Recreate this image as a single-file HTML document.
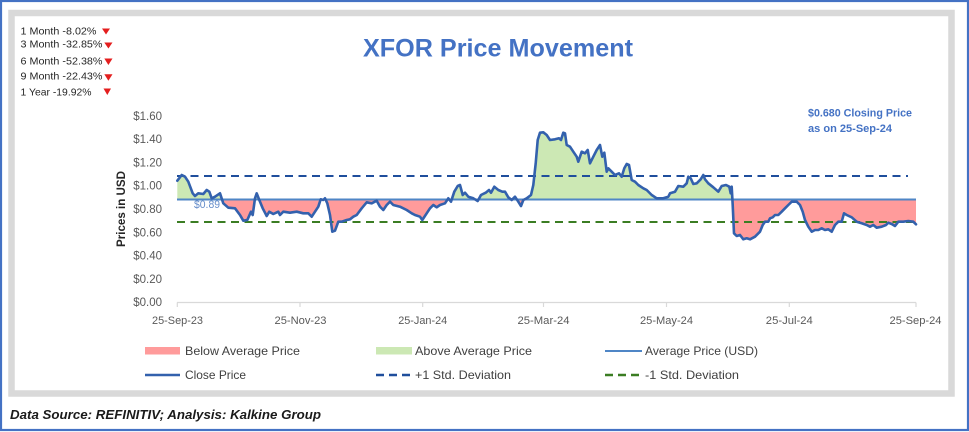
<!DOCTYPE html>
<html>
<head>
<meta charset="utf-8">
<style>
  html,body{margin:0;padding:0;background:#fff;}
  svg{display:block;}
  text{font-family:"Liberation Sans",Arial,sans-serif;}
</style>
</head>
<body>
<svg width="969" height="432" viewBox="0 0 969 432" xmlns="http://www.w3.org/2000/svg">
  <!-- outer blue border -->
  <rect x="1" y="1" width="967" height="429" fill="#fff" stroke="#4472c4" stroke-width="2.2"/>
  <!-- gray frame -->
  <rect x="11.5" y="13" width="940" height="380.5" fill="#fff" stroke="#d9d9d9" stroke-width="6.5"/>

  <!-- stats -->
  <g font-size="10.5" fill="#262626">
    <text x="20.5" y="34.3" textLength="76" lengthAdjust="spacingAndGlyphs">1 Month -8.02%</text>
    <text x="20.5" y="47.7" textLength="82" lengthAdjust="spacingAndGlyphs">3 Month -32.85%</text>
    <text x="20.5" y="64.4" textLength="82" lengthAdjust="spacingAndGlyphs">6 Month -52.38%</text>
    <text x="20.5" y="79.7" textLength="82" lengthAdjust="spacingAndGlyphs">9 Month -22.43%</text>
    <text x="20.5" y="95.4" textLength="71" lengthAdjust="spacingAndGlyphs">1 Year -19.92%</text>
  </g>
  <g fill="#e41e1e">
    <polygon points="102,28.5 110,28.5 106,34.5"/>
    <polygon points="104.3,42.5 112.5,42.5 108.4,48.5"/>
    <polygon points="104.3,58.5 112.5,58.5 108.4,65"/>
    <polygon points="104.3,74.2 112.5,74.2 108.4,80.7"/>
    <polygon points="103.5,88.5 111,88.5 107.3,95"/>
  </g>

  <!-- title -->
  <text x="498" y="56.5" text-anchor="middle" font-size="25" font-weight="bold" fill="#4472c4" textLength="270" lengthAdjust="spacingAndGlyphs">XFOR Price Movement</text>

  <!-- closing annotation -->
  <g font-size="11" font-weight="bold" fill="#4472c4">
    <text x="808" y="116.5" textLength="104" lengthAdjust="spacingAndGlyphs">$0.680 Closing Price</text>
    <text x="808" y="132" textLength="84" lengthAdjust="spacingAndGlyphs">as on 25-Sep-24</text>
  </g>

  <!-- y axis labels -->
  <g font-size="11.5" fill="#595959" text-anchor="end">
    <text x="162" y="119.8">$1.60</text>
    <text x="162" y="143.1">$1.40</text>
    <text x="162" y="166.4">$1.20</text>
    <text x="162" y="189.7">$1.00</text>
    <text x="162" y="213">$0.80</text>
    <text x="162" y="236.3">$0.60</text>
    <text x="162" y="259.6">$0.40</text>
    <text x="162" y="282.9">$0.20</text>
    <text x="162" y="306.2">$0.00</text>
  </g>
  <text transform="translate(125,209) rotate(-90)" text-anchor="middle" font-size="12" font-weight="bold" fill="#262626" textLength="76" lengthAdjust="spacingAndGlyphs">Prices in USD</text>

  <!-- x axis -->
  <line x1="177" y1="302.5" x2="916" y2="302.5" stroke="#d9d9d9" stroke-width="1.2"/>
  <g stroke="#d9d9d9" stroke-width="1.2">
    <line x1="177.3" y1="302.5" x2="177.3" y2="307"/>
    <line x1="300" y1="302.5" x2="300" y2="307"/>
    <line x1="422.7" y1="302.5" x2="422.7" y2="307"/>
    <line x1="543.5" y1="302.5" x2="543.5" y2="307"/>
    <line x1="666.5" y1="302.5" x2="666.5" y2="307"/>
    <line x1="789.3" y1="302.5" x2="789.3" y2="307"/>
    <line x1="916" y1="302.5" x2="916" y2="307"/>
  </g>
  <g font-size="11" fill="#595959" text-anchor="middle">
    <text x="177.5" y="324" textLength="51" lengthAdjust="spacingAndGlyphs">25-Sep-23</text>
    <text x="300.5" y="324" textLength="52" lengthAdjust="spacingAndGlyphs">25-Nov-23</text>
    <text x="422.7" y="324" textLength="49" lengthAdjust="spacingAndGlyphs">25-Jan-24</text>
    <text x="543.5" y="324" textLength="52" lengthAdjust="spacingAndGlyphs">25-Mar-24</text>
    <text x="666.5" y="324" textLength="53" lengthAdjust="spacingAndGlyphs">25-May-24</text>
    <text x="789.3" y="324" textLength="47" lengthAdjust="spacingAndGlyphs">25-Jul-24</text>
    <text x="915.5" y="324" textLength="52" lengthAdjust="spacingAndGlyphs">25-Sep-24</text>
  </g>

  <defs>
    <clipPath id="above"><rect x="170" y="100" width="760" height="99.5"/></clipPath>
    <clipPath id="below"><rect x="170" y="199.5" width="760" height="100"/></clipPath>
  </defs>

  <!-- fills -->
  <g id="fills">
    <polygon clip-path="url(#above)" fill="#cce8b4" points="177.3,199.5 177.3,180.7 181.7,175 185,176.7 188.3,181.7 192.7,193.3 195,196 198.3,193.3 203.3,194 206.7,190 209.3,191.7 211.7,198.3 215,196.7 220,193.3 223.3,203.3 228.3,207.7 235,208.3 240,215 243.3,220.7 247.3,220 251,211.7 252.7,215 255,198.3 256.7,193.3 259.3,200 262.7,208.3 266.7,216 269.3,211.7 273.3,214 278.3,211.7 280,215 283.3,211.7 290,212.7 296.7,211.7 303.3,213.3 308.3,213.3 311.7,216.7 315,211.7 318.3,206.7 320.7,199.3 323.3,200 325,198.3 327.3,203.3 330,215 332.3,231.7 335,230.7 338.3,221.7 341.7,221.7 346.7,220 350,219.3 353.3,216.7 356.7,215 361.7,208.3 366.7,202.3 371.7,203.3 376.7,200.7 380,206.7 383.3,210 386.7,205 390,201.7 393.3,205 400,206.7 406.7,210 411.7,213.3 415,215 420,216.7 422.3,220 426.7,213.3 430,208.3 433.3,205 436.7,207.3 440,205 445,203.3 448.3,198.3 451,201.7 454.3,191.7 457.7,186 460,185 462.7,195 465,192.7 468.3,196.7 473.3,198.3 477.7,201 481,195 485.7,192.7 489,190 491,192.7 494.3,186.7 498.3,190 502.3,191.7 505,191.7 508.3,197.3 511.7,200 515,196.7 518.3,201.7 521,206 523.3,200 526.7,198.3 531,195 533.3,185 535.7,163.3 537.7,140 540,132.7 543.3,132.3 546.7,135 550,140 555,139.3 559,138.3 561,140 563.3,132.7 565,133.3 566.7,145 570,146.7 573.3,151.7 576.7,156.7 578.3,161.7 581.7,151.7 585,153.3 587.7,150 590,163.3 593.3,156.7 596.7,150 600,145 602.3,156.7 604.3,152.7 606.7,171.7 608.3,168.3 611.7,171.7 615,175 619,173.3 621.7,176.7 624.3,168.3 626.7,164 629,165 631.7,180 635,181.7 638.3,185 643.3,188.3 646.7,190 651.7,195 656.7,198.3 663.3,198.3 668.3,196.7 670,193.3 675,191.7 678.3,186 683.3,186.7 686.7,183.3 688.3,176.7 690.7,178.3 693.3,184 696.7,183.3 700.7,179.3 703.3,175 705,179.3 708.3,183.3 713.3,187.3 718.3,191.7 721.7,186 726,185 729.3,186.7 730.7,193.3 731.7,186.7 732.7,205 734,233.3 736.7,236 740,235 743.3,239.3 746.7,238.3 750,239.3 755,236.7 760,231.7 762.7,225 765,221.7 768.3,221.7 770,218.3 772.7,217.3 775,215 778.3,215 781.7,211.7 785,208.3 788.3,205 791.7,201.7 796.7,201.7 800,205 802.7,211.7 805,220 808.3,226.7 811.7,231.7 815,230 818.3,230 821.7,228.3 825,230 828.3,229.3 831.7,231.7 835,225 838.3,221.7 841.7,221.7 844,213.3 846.7,215 851.7,217.3 856.7,221.7 861.7,223.3 866.7,225 870,226.7 873.3,225 876.7,227.7 881.7,226.7 886,225 888.3,222.7 891.7,224 895,226 898.3,221.7 903.3,221.7 908.3,221 913.3,221.7 916,224.3 916,199.5"/>
    <polygon clip-path="url(#below)" fill="#ff9b9b" points="177.3,199.5 177.3,180.7 181.7,175 185,176.7 188.3,181.7 192.7,193.3 195,196 198.3,193.3 203.3,194 206.7,190 209.3,191.7 211.7,198.3 215,196.7 220,193.3 223.3,203.3 228.3,207.7 235,208.3 240,215 243.3,220.7 247.3,220 251,211.7 252.7,215 255,198.3 256.7,193.3 259.3,200 262.7,208.3 266.7,216 269.3,211.7 273.3,214 278.3,211.7 280,215 283.3,211.7 290,212.7 296.7,211.7 303.3,213.3 308.3,213.3 311.7,216.7 315,211.7 318.3,206.7 320.7,199.3 323.3,200 325,198.3 327.3,203.3 330,215 332.3,231.7 335,230.7 338.3,221.7 341.7,221.7 346.7,220 350,219.3 353.3,216.7 356.7,215 361.7,208.3 366.7,202.3 371.7,203.3 376.7,200.7 380,206.7 383.3,210 386.7,205 390,201.7 393.3,205 400,206.7 406.7,210 411.7,213.3 415,215 420,216.7 422.3,220 426.7,213.3 430,208.3 433.3,205 436.7,207.3 440,205 445,203.3 448.3,198.3 451,201.7 454.3,191.7 457.7,186 460,185 462.7,195 465,192.7 468.3,196.7 473.3,198.3 477.7,201 481,195 485.7,192.7 489,190 491,192.7 494.3,186.7 498.3,190 502.3,191.7 505,191.7 508.3,197.3 511.7,200 515,196.7 518.3,201.7 521,206 523.3,200 526.7,198.3 531,195 533.3,185 535.7,163.3 537.7,140 540,132.7 543.3,132.3 546.7,135 550,140 555,139.3 559,138.3 561,140 563.3,132.7 565,133.3 566.7,145 570,146.7 573.3,151.7 576.7,156.7 578.3,161.7 581.7,151.7 585,153.3 587.7,150 590,163.3 593.3,156.7 596.7,150 600,145 602.3,156.7 604.3,152.7 606.7,171.7 608.3,168.3 611.7,171.7 615,175 619,173.3 621.7,176.7 624.3,168.3 626.7,164 629,165 631.7,180 635,181.7 638.3,185 643.3,188.3 646.7,190 651.7,195 656.7,198.3 663.3,198.3 668.3,196.7 670,193.3 675,191.7 678.3,186 683.3,186.7 686.7,183.3 688.3,176.7 690.7,178.3 693.3,184 696.7,183.3 700.7,179.3 703.3,175 705,179.3 708.3,183.3 713.3,187.3 718.3,191.7 721.7,186 726,185 729.3,186.7 730.7,193.3 731.7,186.7 732.7,205 734,233.3 736.7,236 740,235 743.3,239.3 746.7,238.3 750,239.3 755,236.7 760,231.7 762.7,225 765,221.7 768.3,221.7 770,218.3 772.7,217.3 775,215 778.3,215 781.7,211.7 785,208.3 788.3,205 791.7,201.7 796.7,201.7 800,205 802.7,211.7 805,220 808.3,226.7 811.7,231.7 815,230 818.3,230 821.7,228.3 825,230 828.3,229.3 831.7,231.7 835,225 838.3,221.7 841.7,221.7 844,213.3 846.7,215 851.7,217.3 856.7,221.7 861.7,223.3 866.7,225 870,226.7 873.3,225 876.7,227.7 881.7,226.7 886,225 888.3,222.7 891.7,224 895,226 898.3,221.7 903.3,221.7 908.3,221 913.3,221.7 916,224.3 916,199.5"/>
  </g>

  <!-- reference lines -->
  <line x1="177" y1="199.5" x2="916" y2="199.5" stroke="#4f86c6" stroke-width="2"/>
  <line x1="177" y1="176" x2="908" y2="176" stroke="#1f4e9c" stroke-width="2" stroke-dasharray="8 5.5"/>
  <line x1="177" y1="222" x2="916" y2="222" stroke="#3b7d23" stroke-width="2" stroke-dasharray="8 5.5"/>

  <!-- close price -->
  <polyline fill="none" stroke="#3361ad" stroke-width="2.6" stroke-linejoin="round" stroke-linecap="round" points="177.3,180.7 181.7,175 185,176.7 188.3,181.7 192.7,193.3 195,196 198.3,193.3 203.3,194 206.7,190 209.3,191.7 211.7,198.3 215,196.7 220,193.3 223.3,203.3 228.3,207.7 235,208.3 240,215 243.3,220.7 247.3,220 251,211.7 252.7,215 255,198.3 256.7,193.3 259.3,200 262.7,208.3 266.7,216 269.3,211.7 273.3,214 278.3,211.7 280,215 283.3,211.7 290,212.7 296.7,211.7 303.3,213.3 308.3,213.3 311.7,216.7 315,211.7 318.3,206.7 320.7,199.3 323.3,200 325,198.3 327.3,203.3 330,215 332.3,231.7 335,230.7 338.3,221.7 341.7,221.7 346.7,220 350,219.3 353.3,216.7 356.7,215 361.7,208.3 366.7,202.3 371.7,203.3 376.7,200.7 380,206.7 383.3,210 386.7,205 390,201.7 393.3,205 400,206.7 406.7,210 411.7,213.3 415,215 420,216.7 422.3,220 426.7,213.3 430,208.3 433.3,205 436.7,207.3 440,205 445,203.3 448.3,198.3 451,201.7 454.3,191.7 457.7,186 460,185 462.7,195 465,192.7 468.3,196.7 473.3,198.3 477.7,201 481,195 485.7,192.7 489,190 491,192.7 494.3,186.7 498.3,190 502.3,191.7 505,191.7 508.3,197.3 511.7,200 515,196.7 518.3,201.7 521,206 523.3,200 526.7,198.3 531,195 533.3,185 535.7,163.3 537.7,140 540,132.7 543.3,132.3 546.7,135 550,140 555,139.3 559,138.3 561,140 563.3,132.7 565,133.3 566.7,145 570,146.7 573.3,151.7 576.7,156.7 578.3,161.7 581.7,151.7 585,153.3 587.7,150 590,163.3 593.3,156.7 596.7,150 600,145 602.3,156.7 604.3,152.7 606.7,171.7 608.3,168.3 611.7,171.7 615,175 619,173.3 621.7,176.7 624.3,168.3 626.7,164 629,165 631.7,180 635,181.7 638.3,185 643.3,188.3 646.7,190 651.7,195 656.7,198.3 663.3,198.3 668.3,196.7 670,193.3 675,191.7 678.3,186 683.3,186.7 686.7,183.3 688.3,176.7 690.7,178.3 693.3,184 696.7,183.3 700.7,179.3 703.3,175 705,179.3 708.3,183.3 713.3,187.3 718.3,191.7 721.7,186 726,185 729.3,186.7 730.7,193.3 731.7,186.7 732.7,205 734,233.3 736.7,236 740,235 743.3,239.3 746.7,238.3 750,239.3 755,236.7 760,231.7 762.7,225 765,221.7 768.3,221.7 770,218.3 772.7,217.3 775,215 778.3,215 781.7,211.7 785,208.3 788.3,205 791.7,201.7 796.7,201.7 800,205 802.7,211.7 805,220 808.3,226.7 811.7,231.7 815,230 818.3,230 821.7,228.3 825,230 828.3,229.3 831.7,231.7 835,225 838.3,221.7 841.7,221.7 844,213.3 846.7,215 851.7,217.3 856.7,221.7 861.7,223.3 866.7,225 870,226.7 873.3,225 876.7,227.7 881.7,226.7 886,225 888.3,222.7 891.7,224 895,226 898.3,221.7 903.3,221.7 908.3,221 913.3,221.7 916,224.3"/>

  <!-- avg label -->
  <text x="194" y="208" font-size="11" fill="#4a78c0" opacity="0.85" textLength="26" lengthAdjust="spacingAndGlyphs">$0.89</text>

  <!-- legend -->
  <rect x="145" y="347" width="35" height="7.5" fill="#ff9b9b"/>
  <rect x="376" y="347" width="36" height="7.5" fill="#cce8b4"/>
  <line x1="605" y1="351" x2="642" y2="351" stroke="#4f86c6" stroke-width="2"/>
  <line x1="145" y1="375" x2="180" y2="375" stroke="#3361ad" stroke-width="2.4"/>
  <line x1="376" y1="375" x2="412" y2="375" stroke="#1f4e9c" stroke-width="2.4" stroke-dasharray="8 5"/>
  <line x1="605" y1="375" x2="641" y2="375" stroke="#3b7d23" stroke-width="2.4" stroke-dasharray="8 5"/>
  <g font-size="12" fill="#404040">
    <text x="185" y="355" textLength="115" lengthAdjust="spacingAndGlyphs">Below Average Price</text>
    <text x="415" y="355" textLength="117" lengthAdjust="spacingAndGlyphs">Above Average Price</text>
    <text x="645" y="355" textLength="113" lengthAdjust="spacingAndGlyphs">Average Price (USD)</text>
    <text x="185" y="379" textLength="61" lengthAdjust="spacingAndGlyphs">Close Price</text>
    <text x="415" y="379" textLength="96" lengthAdjust="spacingAndGlyphs">+1 Std. Deviation</text>
    <text x="645" y="379" textLength="94" lengthAdjust="spacingAndGlyphs">-1 Std. Deviation</text>
  </g>

  <!-- footer -->
  <text x="10" y="419" font-size="13" font-weight="bold" font-style="italic" fill="#1a1a1a" textLength="311" lengthAdjust="spacingAndGlyphs">Data Source: REFINITIV; Analysis: Kalkine Group</text>
</svg>
</body>
</html>
